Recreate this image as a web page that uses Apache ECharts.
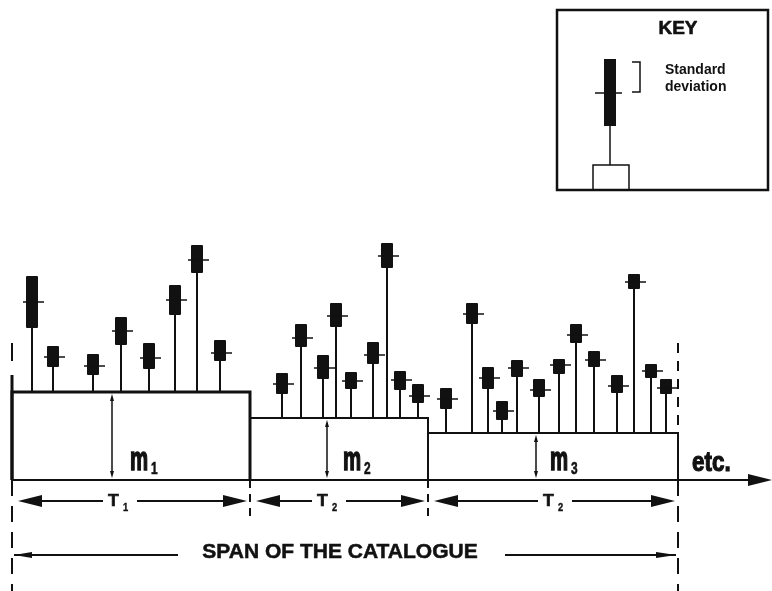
<!DOCTYPE html>
<html lang="en">
<head>
<meta charset="UTF-8">
<title>span of the catalogue</title>
<script src="https://cdn.jsdelivr.net/npm/echarts@6/dist/echarts.min.js"></script>
<style>
    html, body {margin: 0; padding: 0; background: #fff;}
    #chart {width: 772px; height: 591px;}
</style>
</head>
<body>
<div id="chart"></div>
<script type="text/javascript">
    // events: time on the x axis, standard deviation bar (bottom / mean / top) as height above the time axis
    var eventTime = [32, 53, 93, 121, 149, 175, 197, 220, 282, 301, 323, 336, 351, 373, 387, 400, 418,
        446, 472, 488, 502, 517, 539, 559, 576, 594, 617, 634, 651, 666];
    var sdTop = [204, 134, 126, 163, 137, 195, 235, 140, 107, 156, 125, 177, 108, 138, 237, 109, 96,
        92, 177, 113, 79, 120, 101, 121, 156, 129, 105, 206, 116, 101];
    var meanValue = [178, 123, 114, 149, 122, 180, 220, 127, 96, 142, 112, 164, 99, 125, 224, 100, 84,
        81, 166, 102, 69, 112, 90, 115, 145, 120, 94, 198, 109, 92];
    var sdBottom = [152, 113, 105, 135, 111, 165, 207, 119, 86, 133, 101, 153, 91, 116, 212, 90, 77,
        71, 156, 91, 60, 103, 83, 106, 137, 113, 87, 191, 102, 86];

    // catalogue periods
    var periodStart = [12, 250, 428];
    var periodEnd = [250, 428, 678];
    var periodMean = [88, 62, 47];
    var meanSub = ['1', '2', '3'];
    var periodSub = ['1', '2', '2'];
    var meanArrowX = [112, 327, 536];
    var meanLabelX = [130, 343, 550];
    var periodLabelX = [108, 317, 543];

    var spanLabel = 'SPAN OF THE CATALOGUE';
    var INK = '#111';
    var FONT = '"Liberation Sans", Arial, sans-serif';

    function seg(a, b, w, dash) {
        return {
            type: 'line',
            shape: {x1: a[0], y1: a[1], x2: b[0], y2: b[1]},
            style: {stroke: INK, lineWidth: w, lineDash: dash || null}
        };
    }

    // filled arrow head, tip at p
    function head(p, dir, len, half) {
        var x = p[0], y = p[1], pts;
        if (dir == 'right') pts = [[x, y], [x - len, y - half], [x - len, y + half]];
        if (dir == 'left') pts = [[x, y], [x + len, y - half], [x + len, y + half]];
        if (dir == 'up') pts = [[x, y], [x - half, y + len], [x + half, y + len]];
        if (dir == 'down') pts = [[x, y], [x - half, y - len], [x + half, y - len]];
        return {type: 'polygon', shape: {points: pts}, style: {fill: INK}};
    }

    // heavy condensed lettering: bold font, squeezed, with a thin outline to thicken it
    function txt(s, x, y, size, sx, align, weight) {
        return {
            type: 'text', x: x, y: y, scaleX: sx,
            style: {
                text: s, font: 'bold ' + size + 'px ' + FONT, fill: INK,
                stroke: weight ? INK : null, lineWidth: weight || 0,
                align: align || 'left', verticalAlign: 'middle'
            }
        };
    }

    function baseAt(t) {
        for (var i = 0; i < periodStart.length; i++) {
            if (t >= periodStart[i] && t <= periodEnd[i]) return periodMean[i];
        }
        return 0;
    }

    var stemData = eventTime.map(function (t, i) {
        return [t, sdBottom[i], meanValue[i], sdTop[i], baseAt(t)];
    });
    var periodData = periodStart.map(function (s, i) {
        return [s, periodEnd[i], periodMean[i], i];
    });

    var T_ROW = -21, SPAN_ROW = -75;

    function renderStem(params, api) {
        var t = api.value(0);
        var bot = api.coord([t, api.value(1)]);
        var mean = api.coord([t, api.value(2)]);
        var top = api.coord([t, api.value(3)]);
        var base = api.coord([t, api.value(4)]);
        return {
            type: 'group',
            children: [
                seg(base, bot, 2),
                {type: 'rect', shape: {x: top[0] - 6, y: top[1], width: 12, height: bot[1] - top[1], r: 1}, style: {fill: INK}},
                seg([mean[0] - 9, mean[1]], [mean[0] + 12, mean[1]], 1.5)
            ]
        };
    }

    function renderPeriod(params, api) {
        var s = api.value(0), e = api.value(1), m = api.value(2), i = api.value(3);
        var ch = [];
        ch.push({
            type: 'polyline',
            shape: {points: [api.coord([s, 0]), api.coord([s, m]), api.coord([e, m]), api.coord([e, 0])]},
            style: {stroke: INK, lineWidth: i == 0 ? 3 : 2, fill: null}
        });
        // mean arrow
        var ax = meanArrowX[i];
        var at = api.coord([ax, m]), ab = api.coord([ax, 0]);
        ch.push(seg([at[0], at[1] + 5], [ab[0], ab[1] - 5], 1.5));
        ch.push(head([at[0], at[1] + 2], 'up', 7, 2));
        ch.push(head([ab[0], ab[1] - 2], 'down', 7, 2));
        var ml = api.coord([meanLabelX[i], 0]);
        ch.push(txt('m', ml[0], 461, 34, 0.6, 'left', 1.6));
        ch.push(txt(meanSub[i], ml[0] + 21, 469, 17, 0.7, 'left', 0.6));
        // period arrow
        var L = api.coord([s + 6, T_ROW]), R = api.coord([e - 3, T_ROW]);
        var lx = api.coord([periodLabelX[i], T_ROW]);
        ch.push(seg([L[0] + 10, L[1]], [lx[0] - 5, L[1]], 2));
        ch.push(seg([lx[0] + 29, L[1]], [R[0] - 10, R[1]], 2));
        ch.push(head(L, 'left', 24, 6));
        ch.push(head(R, 'right', 24, 6));
        ch.push(txt('T', lx[0], L[1] + 1, 16, 1.1, 'left', 0.6));
        ch.push(txt(periodSub[i], lx[0] + 15, L[1] + 7, 11, 0.85, 'left', 0.4));
        // period boundary below the time axis
        if (i > 0) {
            ch.push(seg(api.coord([s, 0]), api.coord([s, -42]), 2, [8, 6]));
        }
        return {type: 'group', children: ch};
    }

    function renderFrame(params, api) {
        var s = api.value(0), e = api.value(1);
        var ch = [];
        // time axis
        var a0 = api.coord([s, 0]), a1 = api.coord([772, 0]);
        ch.push(seg(a0, [a1[0] - 20, a1[1]], 2));
        ch.push(head(a1, 'right', 24, 6));
        ch.push(txt('etc.', 692, 463, 28, 0.8, 'left', 1.2));
        // first period edge and span markers
        ch.push(seg(api.coord([s, 0]), api.coord([s, 105]), 3));
        ch.push(seg(api.coord([s, 137]), api.coord([s, 105]), 2, [18, 14]));
        ch.push(seg(api.coord([s, 0]), api.coord([s, -111]), 2, [16, 10]));
        ch.push(seg(api.coord([e, 137]), api.coord([e, 47]), 2, [10, 8]));
        ch.push(seg(api.coord([e, 0]), api.coord([e, -111]), 2, [16, 10]));
        // span arrow
        var L = api.coord([s + 2, SPAN_ROW]), R = api.coord([e - 2, SPAN_ROW]);
        ch.push(seg(L, [178, L[1]], 2));
        ch.push(head(L, 'left', 18, 3));
        ch.push(seg([505, R[1]], R, 2));
        ch.push(head(R, 'right', 20, 3));
        ch.push(txt(spanLabel, 340, L[1] - 3, 20, 1.05, 'center', 0.5));
        return {type: 'group', children: ch};
    }

    var myChart = echarts.init(document.getElementById('chart'));
    var option = {
        animation: false,
        backgroundColor: '#fff',
        grid: {left: 0, right: 0, top: 0, bottom: 0},
        xAxis: {type: 'value', min: 0, max: 772, show: false},
        yAxis: {type: 'value', min: -111, max: 480, show: false},
        graphic: [
            // key
            {type: 'rect', shape: {x: 557, y: 10, width: 211, height: 180}, style: {fill: null, stroke: INK, lineWidth: 2.5}},
            {type: 'text', x: 678, y: 29, style: {text: 'KEY', font: 'bold 19px ' + FONT, fill: INK, stroke: INK, lineWidth: 0.6, align: 'center', verticalAlign: 'middle'}},
            {type: 'rect', shape: {x: 604, y: 59, width: 12, height: 67}, style: {fill: INK}},
            {type: 'line', shape: {x1: 595, y1: 93, x2: 622, y2: 93}, style: {stroke: INK, lineWidth: 1.5}},
            {type: 'line', shape: {x1: 610, y1: 126, x2: 610, y2: 165}, style: {stroke: INK, lineWidth: 1.5}},
            {type: 'rect', shape: {x: 593, y: 165, width: 36, height: 25}, style: {fill: null, stroke: INK, lineWidth: 1.5}},
            {type: 'polyline', shape: {points: [[632, 62], [640, 62], [640, 92], [632, 92]]}, style: {stroke: INK, lineWidth: 1.5, fill: null}},
            {type: 'text', x: 665, y: 70, style: {text: 'Standard', font: 'bold 14px ' + FONT, fill: INK, align: 'left', verticalAlign: 'middle'}},
            {type: 'text', x: 665, y: 87, style: {text: 'deviation', font: 'bold 14px ' + FONT, fill: INK, align: 'left', verticalAlign: 'middle'}}
        ],
        series: [
            {type: 'custom', clip: false, renderItem: renderFrame, data: [[periodStart[0], periodEnd[periodEnd.length - 1]]]},
            {type: 'custom', clip: false, renderItem: renderPeriod, data: periodData},
            {type: 'custom', clip: false, renderItem: renderStem, data: stemData}
        ]
    };
    myChart.setOption(option);
</script>
</body>
</html>
